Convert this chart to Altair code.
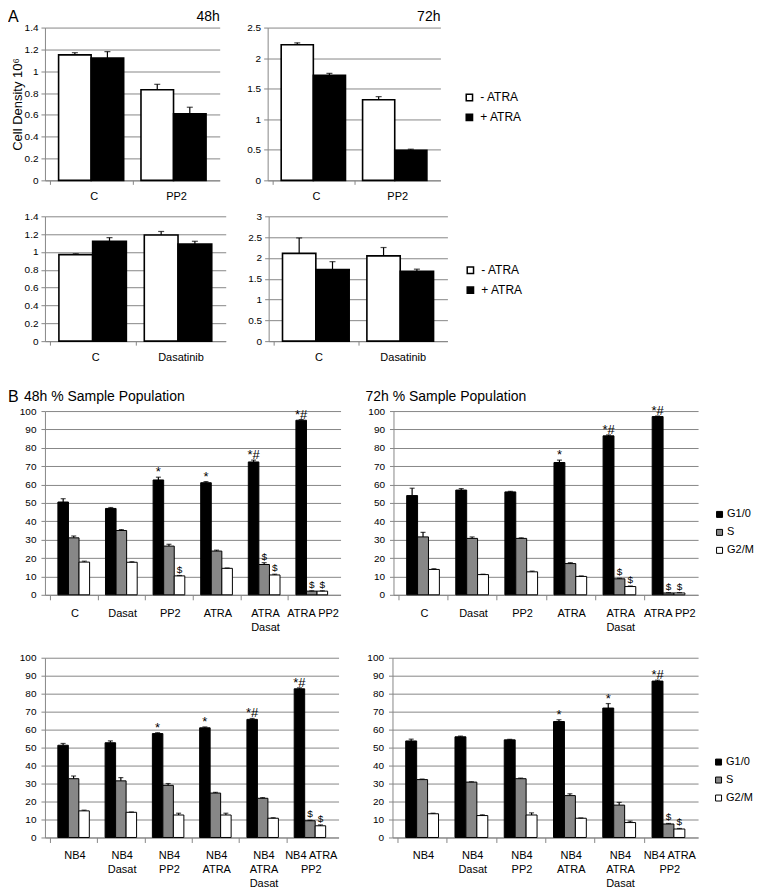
import json
import altair as alt
import pandas as pd

FONT = "Liberation Sans"
GRID = "#878787"

# ---------------- Panel A data (cell density, 10^6) ----------------
A_series = ["- ATRA", "+ ATRA"]
A_colors = ["#ffffff", "#000000"]
A_top_groups = ["C", "PP2"]
A_bot_groups = ["C", "Dasatinib"]

A48_top_minus = [1.15, 0.83]
A48_top_minus_err = [0.02, 0.05]
A48_top_plus = [1.12, 0.61]
A48_top_plus_err = [0.06, 0.06]

A72_top_minus = [2.22, 1.32]
A72_top_minus_err = [0.03, 0.05]
A72_top_plus = [1.72, 0.49]
A72_top_plus_err = [0.03, 0.02]

A48_bot_minus = [0.97, 1.19]
A48_bot_minus_err = [0.01, 0.04]
A48_bot_plus = [1.12, 1.09]
A48_bot_plus_err = [0.04, 0.03]

A72_bot_minus = [2.11, 2.05]
A72_bot_minus_err = [0.37, 0.20]
A72_bot_plus = [1.72, 1.68]
A72_bot_plus_err = [0.19, 0.05]

# ---------------- Panel B data (% sample population) ----------------
B_series = ["G1/0", "S", "G2/M"]
B_colors = ["#000000", "#878787", "#ffffff"]
B_top_groups = ["C", "Dasat", "PP2", "ATRA", "ATRA\nDasat", "ATRA PP2"]
B_bot_groups = ["NB4", "NB4\nDasat", "NB4\nPP2", "NB4\nATRA", "NB4\nATRA\nDasat", "NB4 ATRA\nPP2"]

B48_top_G1 = [50.5, 47.0, 62.5, 61.0, 72.3, 95.0]
B48_top_G1_err = [1.8, 0.5, 1.5, 0.6, 1.0, 0.3]
B48_top_S = [31.0, 35.0, 26.5, 23.8, 16.5, 2.0]
B48_top_S_err = [1.0, 0.5, 1.0, 0.5, 1.0, 0.2]
B48_top_G2 = [17.8, 17.7, 10.3, 14.4, 10.8, 2.0]
B48_top_G2_err = [0.5, 0.3, 0.2, 0.2, 0.4, 0.2]
B48_top_G1_sig = ["", "", "*", "*", "*#", "*#"]
B48_top_S_sig = ["", "", "", "", "$", "$"]
B48_top_G2_sig = ["", "", "$", "", "$", "$"]

B72_top_G1 = [54.0, 57.0, 56.0, 72.0, 86.5, 97.0]
B72_top_G1_err = [4.0, 0.8, 0.3, 1.3, 0.5, 0.3]
B72_top_S = [31.5, 30.7, 30.7, 17.0, 8.7, 1.0]
B72_top_S_err = [2.5, 0.8, 0.3, 0.5, 0.3, 0.2]
B72_top_G2 = [13.8, 11.0, 12.5, 10.0, 4.5, 1.0]
B72_top_G2_err = [0.4, 0.2, 0.4, 0.3, 0.3, 0.2]
B72_top_G1_sig = ["", "", "", "*", "*#", "*#"]
B72_top_S_sig = ["", "", "", "", "$", "$"]
B72_top_G2_sig = ["", "", "", "", "$", "$"]

B48_bot_G1 = [51.3, 52.7, 57.8, 61.0, 65.7, 82.7]
B48_bot_G1_err = [1.0, 1.0, 0.5, 0.5, 0.5, 0.5]
B48_bot_S = [32.7, 31.5, 29.0, 24.7, 21.8, 9.3]
B48_bot_S_err = [1.5, 1.8, 1.0, 0.4, 0.4, 0.3]
B48_bot_G2 = [14.8, 14.0, 12.5, 12.5, 10.7, 6.5]
B48_bot_G2_err = [0.4, 0.2, 1.0, 1.0, 0.3, 0.5]
B48_bot_G1_sig = ["", "", "*", "*", "*#", "*#"]
B48_bot_S_sig = ["", "", "", "", "", "$"]
B48_bot_G2_sig = ["", "", "", "", "", "$"]

B72_bot_G1 = [53.7, 56.0, 54.3, 64.5, 72.0, 87.0]
B72_bot_G1_err = [1.0, 0.4, 0.3, 1.0, 2.5, 0.5]
B72_bot_S = [32.2, 30.8, 32.7, 23.3, 18.0, 7.5]
B72_bot_S_err = [0.3, 0.2, 0.4, 1.0, 1.5, 0.3]
B72_bot_G2 = [13.2, 12.2, 12.5, 10.7, 8.3, 4.7]
B72_bot_G2_err = [0.3, 0.4, 1.2, 0.2, 0.8, 0.3]
B72_bot_G1_sig = ["", "", "", "*", "*", "*#"]
B72_bot_S_sig = ["", "", "", "", "", "$"]
B72_bot_G2_sig = ["", "", "", "", "", "$"]


def frame(groups, series, values, errors, pad, sigs=None):
    """Category slots: group i spans [i, i+1]; its bars share the inner part of that slot."""
    m = len(series)
    w = (1 - 2 * pad) / m
    rows = []
    for si, s in enumerate(series):
        for gi, g in enumerate(groups):
            v = values[si][gi]
            e = errors[si][gi]
            x0 = gi + pad + si * w
            rows.append({"group": g, "series": s, "value": v, "top": v + e,
                         "x0": x0, "x1": x0 + w, "xc": x0 + w / 2,
                         "sig": sigs[si][gi] if sigs else ""})
    return pd.DataFrame(rows)


def label_layer(text, x, y, size, align):
    return alt.Chart(pd.DataFrame({"label": [text]})).mark_text(
        font=FONT, fontSize=size, align=align, baseline="middle", color="black"
    ).encode(x=alt.value(x), y=alt.value(y), text="label:N")


def panel(df, groups, series, colors, ymax, step, width, height, bar_stroke,
          ytitle=None, ytitle_pad=0, ylab_pad=3, xtick=4, xlab_pad=6, line_h=13,
          legend=None, texts=(), cap=6, annotate=False, gap_below=0):
    n = len(groups)
    k = int(round(ymax / step))
    vals = [round(i * step, 3) for i in range(k + 1)]
    yaxis = alt.Axis(values=vals, format=".1~f", title=ytitle, titleFontSize=13,
                     titleFontWeight="normal", titlePadding=ytitle_pad, titleColor="black",
                     titleFont=FONT, labelFont=FONT, labelFontSize=10, labelPadding=ylab_pad,
                     labelColor="black", tickSize=4, tickColor=GRID, domainColor=GRID,
                     gridColor=GRID, grid=True)
    yscale = alt.Scale(domain=[0, ymax], nice=False, zero=True)
    label_lists = json.dumps([g.split("\n") for g in groups])
    xaxis_kw = dict(values=list(range(n)),
                    labelExpr=f"{label_lists}[datum.value]",
                    labelOffset=width / (2 * n), labelFlush=False, labelBound=False,
                    labelAngle=0, labelFont=FONT, labelFontSize=11, labelColor="black",
                    labelPadding=xlab_pad, labelLineHeight=line_h, tickSize=xtick,
                    tickColor=GRID, domainColor=GRID, grid=False, labelOverlap=False)
    if gap_below:
        xaxis_kw.update(title=" ", titleFontSize=2, titlePadding=gap_below)
    else:
        xaxis_kw.update(title=None)
    xaxis = alt.Axis(**xaxis_kw)
    xscale = alt.Scale(domain=[0, n], nice=False, zero=False)
    fill = alt.Fill("series:N", sort=series,
                    scale=alt.Scale(domain=series, range=colors), legend=legend)
    base = alt.Chart(df)
    bars = base.mark_bar(stroke="black", strokeWidth=bar_stroke, orient="vertical").encode(
        x=alt.X("x0:Q", scale=xscale, axis=xaxis), x2="x1:Q",
        y=alt.Y("value:Q", scale=yscale, axis=yaxis), y2=alt.datum(0), fill=fill)
    err = base.mark_rule(color="black", strokeWidth=1.2).encode(
        x=alt.X("xc:Q", scale=xscale, axis=xaxis),
        y=alt.Y("value:Q", scale=yscale, axis=yaxis), y2="top:Q")
    capm = base.mark_tick(color="black", thickness=1.2, size=cap, orient="horizontal").encode(
        x=alt.X("xc:Q", scale=xscale, axis=xaxis),
        y=alt.Y("top:Q", scale=yscale, axis=yaxis))
    layers = [bars, err, capm]
    if annotate:
        stars = base.transform_filter(alt.datum.series == series[0]).mark_text(
            font=FONT, fontSize=13, dy=-1, baseline="alphabetic", color="black").encode(
            x=alt.X("xc:Q", scale=xscale, axis=xaxis),
            y=alt.Y("top:Q", scale=yscale, axis=yaxis), text="sig:N")
        dollars = base.transform_filter(alt.datum.series != series[0]).mark_text(
            font=FONT, fontSize=10, dy=-3, baseline="alphabetic", color="black").encode(
            x=alt.X("xc:Q", scale=xscale, axis=xaxis),
            y=alt.Y("top:Q", scale=yscale, axis=yaxis), text="sig:N")
        layers += [stars, dollars]
    layers += [label_layer(*t) for t in texts]
    return alt.layer(*layers).properties(width=width, height=height)


def a_legend(lx, ly):
    return alt.Legend(title=None, orient="none", legendX=lx, legendY=ly, symbolType="square",
                      symbolSize=40, symbolStrokeColor="black", symbolStrokeWidth=1.5,
                      labelFont=FONT, labelFontSize=12, labelColor="black", labelOffset=5,
                      rowPadding=6)


def b_legend(lx, ly):
    return alt.Legend(title=None, orient="none", legendX=lx, legendY=ly, symbolType="square",
                      symbolSize=36, symbolStrokeColor="black", symbolStrokeWidth=1,
                      labelFont=FONT, labelFontSize=11, labelColor="black", labelOffset=2,
                      rowPadding=6)


PAD_A, PAD_B = 0.105, 0.167

dfA48t = frame(A_top_groups, A_series, [A48_top_minus, A48_top_plus],
               [A48_top_minus_err, A48_top_plus_err], PAD_A)
dfA72t = frame(A_top_groups, A_series, [A72_top_minus, A72_top_plus],
               [A72_top_minus_err, A72_top_plus_err], PAD_A)
dfA48b = frame(A_bot_groups, A_series, [A48_bot_minus, A48_bot_plus],
               [A48_bot_minus_err, A48_bot_plus_err], PAD_A)
dfA72b = frame(A_bot_groups, A_series, [A72_bot_minus, A72_bot_plus],
               [A72_bot_minus_err, A72_bot_plus_err], PAD_A)

dfB48t = frame(B_top_groups, B_series, [B48_top_G1, B48_top_S, B48_top_G2],
               [B48_top_G1_err, B48_top_S_err, B48_top_G2_err], PAD_B,
               [B48_top_G1_sig, B48_top_S_sig, B48_top_G2_sig])
dfB72t = frame(B_top_groups, B_series, [B72_top_G1, B72_top_S, B72_top_G2],
               [B72_top_G1_err, B72_top_S_err, B72_top_G2_err], PAD_B,
               [B72_top_G1_sig, B72_top_S_sig, B72_top_G2_sig])
dfB48b = frame(B_bot_groups, B_series, [B48_bot_G1, B48_bot_S, B48_bot_G2],
               [B48_bot_G1_err, B48_bot_S_err, B48_bot_G2_err], PAD_B,
               [B48_bot_G1_sig, B48_bot_S_sig, B48_bot_G2_sig])
dfB72b = frame(B_bot_groups, B_series, [B72_bot_G1, B72_bot_S, B72_bot_G2],
               [B72_bot_G1_err, B72_bot_S_err, B72_bot_G2_err], PAD_B,
               [B72_bot_G1_sig, B72_bot_S_sig, B72_bot_G2_sig])

HA1, HA2, HB3, HB4 = 153, 125, 184, 180
WA1, WA2 = 175, 181
WB1, WB2 = 296, 294

a48t = panel(dfA48t, A_top_groups, A_series, A_colors, 1.4, 0.2, WA1, HA1, 1.6,
             ytitle="Cell Density 10⁶",
             texts=[("A", -37, -11, 16, "left"), ("48h", WA1, -11, 14, "right")])
a72t = panel(dfA72t, A_top_groups, A_series, A_colors, 2.5, 0.5, 173, HA1, 1.6,
             legend=a_legend(196, 64), texts=[("72h", 173, -11, 14, "right")])
a48b = panel(dfA48b, A_bot_groups, A_series, A_colors, 1.4, 0.2, WA2, HA2, 1.6,
             ytitle=" ", gap_below=15)
a72b = panel(dfA72b, A_bot_groups, A_series, A_colors, 3.0, 0.5, 179, HA2, 1.6,
             legend=a_legend(196, 48))

b48t = panel(dfB48t, B_top_groups, B_series, B_colors, 100, 10, WB1, HB3, 1.0,
             ylab_pad=5, xtick=5, xlab_pad=8, line_h=14, cap=5, annotate=True, gap_below=8,
             texts=[("B", -37, -14, 16, "left"),
                    ("48h % Sample Population", -21, -14, 14, "left")])
b72t = panel(dfB72t, B_top_groups, B_series, B_colors, 100, 10, 305, HB3, 1.0,
             ylab_pad=5, xtick=5, xlab_pad=8, line_h=14, cap=5, annotate=True,
             legend=b_legend(321, 98),
             texts=[("72h % Sample Population", -28, -14, 14, "left")])
b48b = panel(dfB48b, B_bot_groups, B_series, B_colors, 100, 10, WB2, HB4, 1.0,
             ylab_pad=5, xtick=5, xlab_pad=7, line_h=14, cap=5, annotate=True)
b72b = panel(dfB72b, B_bot_groups, B_series, B_colors, 100, 10, 306, HB4, 1.0,
             ylab_pad=5, xtick=5, xlab_pad=7, line_h=14, cap=5, annotate=True,
             legend=b_legend(321, 99))

row1 = alt.hconcat(a48t, a72t, spacing=27).resolve_scale(fill="independent")
row2 = alt.hconcat(a48b, a72b, spacing=22).resolve_scale(fill="independent")
row3 = alt.hconcat(b48t, b72t, spacing=25).resolve_scale(fill="independent")
row4 = alt.hconcat(b48b, b72b, spacing=28).resolve_scale(fill="independent")

chart = alt.vconcat(row1, row2, row3, row4, spacing=10).resolve_scale(
    fill="independent"
).properties(padding=0).configure(font=FONT).configure_view(strokeWidth=0)

chart.save("out.html", embed_options={"renderer": "svg", "actions": False})
